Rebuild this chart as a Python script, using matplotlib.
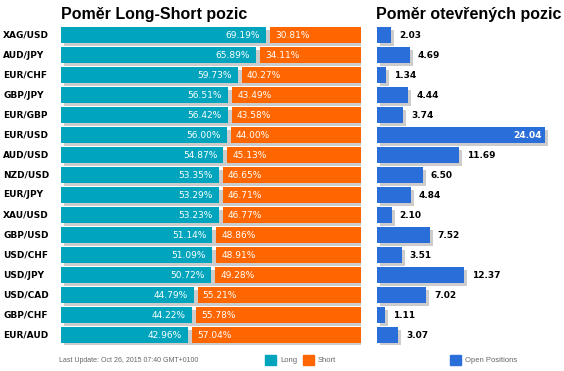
import matplotlib.pyplot as plt
import matplotlib.transforms as mtransforms
from matplotlib.patches import Rectangle

pairs = ["XAG/USD", "AUD/JPY", "EUR/CHF", "GBP/JPY", "EUR/GBP", "EUR/USD",
         "AUD/USD", "NZD/USD", "EUR/JPY", "XAU/USD", "GBP/USD", "USD/CHF",
         "USD/JPY", "USD/CAD", "GBP/CHF", "EUR/AUD"]
long_pct = [69.19, 65.89, 59.73, 56.51, 56.42, 56.00, 54.87, 53.35, 53.29,
            53.23, 51.14, 51.09, 50.72, 44.79, 44.22, 42.96]
short_pct = [30.81, 34.11, 40.27, 43.49, 43.58, 44.00, 45.13, 46.65, 46.71,
             46.77, 48.86, 48.91, 49.28, 55.21, 55.78, 57.04]
open_pos = [2.03, 4.69, 1.34, 4.44, 3.74, 24.04, 11.69, 6.50, 4.84, 2.10,
            7.52, 3.51, 12.37, 7.02, 1.11, 3.07]

W, H = 564, 371
TEAL = "#00a5bd"
ORANGE = "#ff6600"
BLUE = "#2a6fd9"
SHADOW = "#cccccc"
TITLE_FONT = "Liberation Sans"
FONT = "DejaVu Sans"

fig = plt.figure(figsize=(W / 100, H / 100), dpi=100)


def px_axes(x0, y0, x1, y1):
    # pixel box measured from top-left
    return fig.add_axes([x0 / W, 1 - y1 / H, (x1 - x0) / W, (y1 - y0) / H])


n = len(pairs)
rows = list(range(n))

ax1 = px_axes(61, 25, 361, 345)
ax2 = px_axes(377, 25, 564, 345)
for ax in (ax1, ax2):
    ax.set_ylim(n - 0.5, -0.5)
    ax.axis("off")
# 300 px wide, 4 px gap between the two parts -> 296 px for 100 %
ax1.set_xlim(0, 100 * 300 / 296)
ax2.set_xlim(0, 187 / 7.0)

shadow1 = mtransforms.offset_copy(ax1.transData, fig=fig, x=3, y=-3, units="dots")
shadow2 = mtransforms.offset_copy(ax2.transData, fig=fig, x=3, y=-3, units="dots")
gap = 4 / 2.96
bh = 0.78

# left panel: long / short ratio
ax1.barh(rows, [100 + gap] * n, height=bh, color=SHADOW, transform=shadow1, zorder=1)
ax1.barh(rows, long_pct, height=bh, color=TEAL, zorder=2)
ax1.barh(rows, short_pct, left=[l + gap for l in long_pct],
         height=bh, color=ORANGE, zorder=2)

lab_in = mtransforms.offset_copy(ax1.transData, fig=fig, x=-6, y=0, units="dots")
lab_out = mtransforms.offset_copy(ax1.transData, fig=fig, x=5, y=0, units="dots")
for i in rows:
    ax1.text(long_pct[i], i, f"{long_pct[i]:.2f}%", color="white", fontsize=6.5,
             ha="right", va="center", transform=lab_in, family=FONT, zorder=3)
    ax1.text(long_pct[i] + gap, i, f"{short_pct[i]:.2f}%", color="white",
             fontsize=6.5, ha="left", va="center", transform=lab_out,
             family=FONT, zorder=3)
    fig.text(3 / W, 1 - (35 + 20 * i) / H, pairs[i], fontsize=6.5,
             fontweight="bold", family=FONT, ha="left", va="center")

# right panel: open positions
ax2.barh(rows, open_pos, height=bh, color=SHADOW, transform=shadow2, zorder=1)
ax2.barh(rows, open_pos, height=bh, color=BLUE, zorder=2)
val_out = mtransforms.offset_copy(ax2.transData, fig=fig, x=8, y=0, units="dots")
val_in = mtransforms.offset_copy(ax2.transData, fig=fig, x=-4, y=0, units="dots")
vmax = max(open_pos)
for i in rows:
    if open_pos[i] == vmax:
        ax2.text(open_pos[i], i, f"{open_pos[i]:.2f}", color="white",
                 fontsize=6.5, fontweight="bold", ha="right", va="center",
                 transform=val_in, family=FONT, zorder=3)
    else:
        ax2.text(open_pos[i], i, f"{open_pos[i]:.2f}", color="black",
                 fontsize=6.5, fontweight="bold", ha="left", va="center",
                 transform=val_out, family=FONT, zorder=3)

# titles
fig.text(61 / W, 1 - 14 / H, "Poměr Long-Short pozic", fontsize=11.5,
         fontweight="bold", family=TITLE_FONT, ha="left", va="center")
fig.text(376 / W, 1 - 14 / H, "Poměr otevřených pozic", fontsize=11.5,
         fontweight="bold", family=TITLE_FONT, ha="left", va="center")

# footer + legend
fig.text(59 / W, 1 - 360 / H, "Last Update: Oct 26, 2015 07:40 GMT+0100",
         fontsize=5, color="#666666", family=TITLE_FONT, ha="left", va="center")
for x, c, label in [(265, TEAL, "Long"), (303, ORANGE, "Short"),
                    (450, BLUE, "Open Positions")]:
    fig.patches.append(Rectangle((x / W, 1 - 365 / H), 11 / W, 10 / H,
                                 color=c, transform=fig.transFigure))
    fig.text((x + 15) / W, 1 - 360 / H, label, fontsize=5.5, color="#666666",
             family=TITLE_FONT, ha="left", va="center")

fig.savefig("out.png", dpi=100)
